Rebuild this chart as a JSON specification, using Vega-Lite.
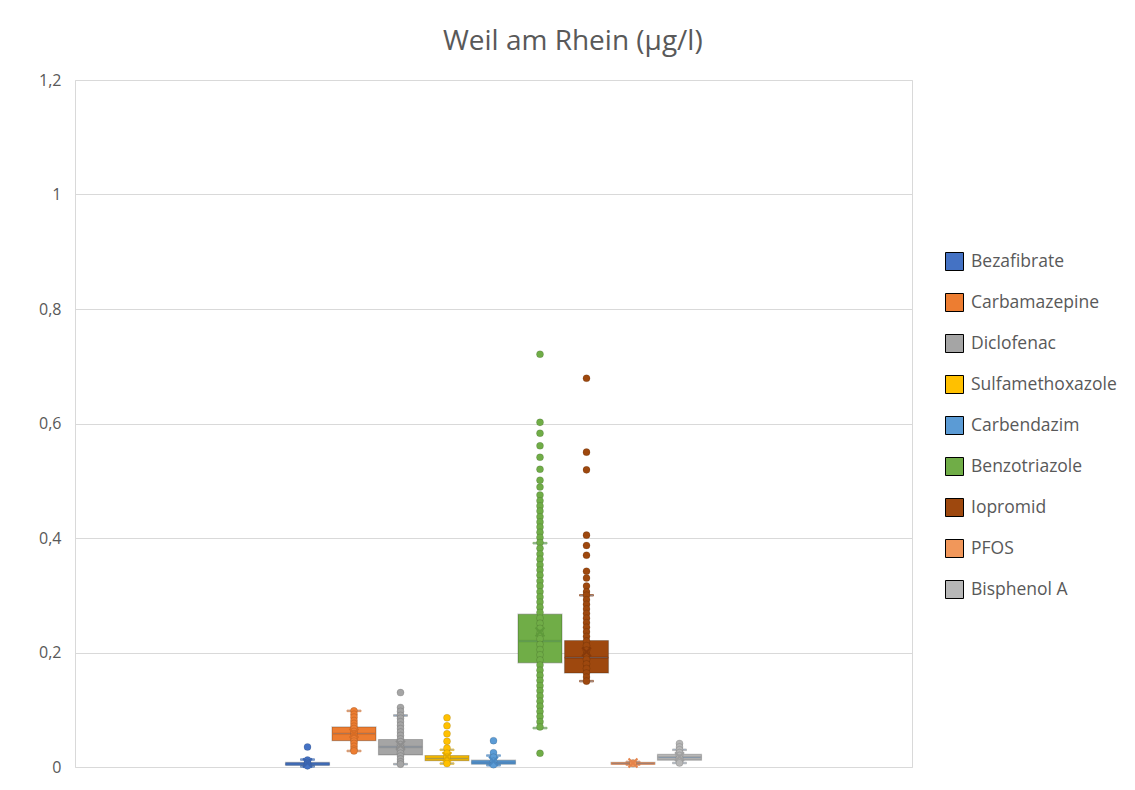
{
  "$schema": "https://vega.github.io/schema/vega-lite/v6.json",
  "width": 837,
  "height": 687,
  "autosize": {"type": "none"},
  "padding": {"left": 75, "top": 80, "right": 223, "bottom": 23},
  "background": "white",
  "config": {
    "font": "Open Sans",
    "view": {"stroke": "#D9D9D9", "strokeWidth": 1}
  },
  "title": {
    "text": "Weil am Rhein (µg/l)",
    "fontSize": 28,
    "fontWeight": "normal",
    "color": "#595959",
    "font": "Open Sans",
    "anchor": "middle",
    "frame": "bounds",
    "offset": 16,
    "dx": -5
  },
  "datasets": {
    "stats": [
      {"series": "Bezafibrate", "lo": 0.001, "q1": 0.003, "med": 0.005, "q3": 0.008, "hi": 0.013, "mean": 0.007},
      {"series": "Carbamazepine", "lo": 0.028, "q1": 0.046, "med": 0.058, "q3": 0.070, "hi": 0.098, "mean": 0.059},
      {"series": "Diclofenac", "lo": 0.005, "q1": 0.021, "med": 0.035, "q3": 0.048, "hi": 0.090, "mean": 0.038},
      {"series": "Sulfamethoxazole", "lo": 0.006, "q1": 0.011, "med": 0.015, "q3": 0.020, "hi": 0.030, "mean": 0.018},
      {"series": "Carbendazim", "lo": 0.003, "q1": 0.005, "med": 0.008, "q3": 0.012, "hi": 0.020, "mean": 0.010},
      {"series": "Benzotriazole", "lo": 0.068, "q1": 0.182, "med": 0.220, "q3": 0.267, "hi": 0.391, "mean": 0.236},
      {"series": "Iopromid", "lo": 0.150, "q1": 0.164, "med": 0.191, "q3": 0.221, "hi": 0.300, "mean": 0.201},
      {"series": "PFOS", "lo": 0.004, "q1": 0.005, "med": 0.006, "q3": 0.008, "hi": 0.009, "mean": 0.007},
      {"series": "Bisphenol A", "lo": 0.007, "q1": 0.012, "med": 0.017, "q3": 0.022, "hi": 0.030, "mean": 0.018}
    ],
    "pts": [
      {"series": "Bezafibrate", "v": 0.035}, {"series": "Bezafibrate", "v": 0.012}, {"series": "Bezafibrate", "v": 0.008}, {"series": "Bezafibrate", "v": 0.005}, {"series": "Bezafibrate", "v": 0.002},
      {"series": "Carbamazepine", "v": 0.098}, {"series": "Carbamazepine", "v": 0.092}, {"series": "Carbamazepine", "v": 0.087}, {"series": "Carbamazepine", "v": 0.081}, {"series": "Carbamazepine", "v": 0.076}, {"series": "Carbamazepine", "v": 0.071}, {"series": "Carbamazepine", "v": 0.067}, {"series": "Carbamazepine", "v": 0.062}, {"series": "Carbamazepine", "v": 0.058}, {"series": "Carbamazepine", "v": 0.054}, {"series": "Carbamazepine", "v": 0.049}, {"series": "Carbamazepine", "v": 0.045}, {"series": "Carbamazepine", "v": 0.041}, {"series": "Carbamazepine", "v": 0.036}, {"series": "Carbamazepine", "v": 0.031}, {"series": "Carbamazepine", "v": 0.028},
      {"series": "Diclofenac", "v": 0.130}, {"series": "Diclofenac", "v": 0.104}, {"series": "Diclofenac", "v": 0.097}, {"series": "Diclofenac", "v": 0.090}, {"series": "Diclofenac", "v": 0.085}, {"series": "Diclofenac", "v": 0.079}, {"series": "Diclofenac", "v": 0.073}, {"series": "Diclofenac", "v": 0.067}, {"series": "Diclofenac", "v": 0.061}, {"series": "Diclofenac", "v": 0.055}, {"series": "Diclofenac", "v": 0.049}, {"series": "Diclofenac", "v": 0.044}, {"series": "Diclofenac", "v": 0.039}, {"series": "Diclofenac", "v": 0.034}, {"series": "Diclofenac", "v": 0.029}, {"series": "Diclofenac", "v": 0.024}, {"series": "Diclofenac", "v": 0.019}, {"series": "Diclofenac", "v": 0.014}, {"series": "Diclofenac", "v": 0.009}, {"series": "Diclofenac", "v": 0.005},
      {"series": "Sulfamethoxazole", "v": 0.086}, {"series": "Sulfamethoxazole", "v": 0.072}, {"series": "Sulfamethoxazole", "v": 0.058}, {"series": "Sulfamethoxazole", "v": 0.045}, {"series": "Sulfamethoxazole", "v": 0.033}, {"series": "Sulfamethoxazole", "v": 0.024}, {"series": "Sulfamethoxazole", "v": 0.017}, {"series": "Sulfamethoxazole", "v": 0.011}, {"series": "Sulfamethoxazole", "v": 0.006},
      {"series": "Carbendazim", "v": 0.046}, {"series": "Carbendazim", "v": 0.025}, {"series": "Carbendazim", "v": 0.017}, {"series": "Carbendazim", "v": 0.010}, {"series": "Carbendazim", "v": 0.004},
      {"series": "Benzotriazole", "v": 0.721}, {"series": "Benzotriazole", "v": 0.602}, {"series": "Benzotriazole", "v": 0.583}, {"series": "Benzotriazole", "v": 0.561}, {"series": "Benzotriazole", "v": 0.541}, {"series": "Benzotriazole", "v": 0.520}, {"series": "Benzotriazole", "v": 0.501}, {"series": "Benzotriazole", "v": 0.489}, {"series": "Benzotriazole", "v": 0.475},
      {"series": "Benzotriazole", "v": 0.465}, {"series": "Benzotriazole", "v": 0.456}, {"series": "Benzotriazole", "v": 0.447}, {"series": "Benzotriazole", "v": 0.437}, {"series": "Benzotriazole", "v": 0.428}, {"series": "Benzotriazole", "v": 0.419}, {"series": "Benzotriazole", "v": 0.410}, {"series": "Benzotriazole", "v": 0.401}, {"series": "Benzotriazole", "v": 0.392}, {"series": "Benzotriazole", "v": 0.382}, {"series": "Benzotriazole", "v": 0.372}, {"series": "Benzotriazole", "v": 0.363}, {"series": "Benzotriazole", "v": 0.353}, {"series": "Benzotriazole", "v": 0.344}, {"series": "Benzotriazole", "v": 0.335}, {"series": "Benzotriazole", "v": 0.325}, {"series": "Benzotriazole", "v": 0.316}, {"series": "Benzotriazole", "v": 0.306}, {"series": "Benzotriazole", "v": 0.297}, {"series": "Benzotriazole", "v": 0.288}, {"series": "Benzotriazole", "v": 0.279}, {"series": "Benzotriazole", "v": 0.270}, {"series": "Benzotriazole", "v": 0.260}, {"series": "Benzotriazole", "v": 0.251}, {"series": "Benzotriazole", "v": 0.242}, {"series": "Benzotriazole", "v": 0.233}, {"series": "Benzotriazole", "v": 0.224}, {"series": "Benzotriazole", "v": 0.214}, {"series": "Benzotriazole", "v": 0.205}, {"series": "Benzotriazole", "v": 0.196}, {"series": "Benzotriazole", "v": 0.187}, {"series": "Benzotriazole", "v": 0.178}, {"series": "Benzotriazole", "v": 0.169}, {"series": "Benzotriazole", "v": 0.160}, {"series": "Benzotriazole", "v": 0.151}, {"series": "Benzotriazole", "v": 0.142}, {"series": "Benzotriazole", "v": 0.133}, {"series": "Benzotriazole", "v": 0.124}, {"series": "Benzotriazole", "v": 0.115}, {"series": "Benzotriazole", "v": 0.106}, {"series": "Benzotriazole", "v": 0.097}, {"series": "Benzotriazole", "v": 0.088}, {"series": "Benzotriazole", "v": 0.079}, {"series": "Benzotriazole", "v": 0.070}, {"series": "Benzotriazole", "v": 0.024},
      {"series": "Iopromid", "v": 0.679}, {"series": "Iopromid", "v": 0.550}, {"series": "Iopromid", "v": 0.519}, {"series": "Iopromid", "v": 0.405}, {"series": "Iopromid", "v": 0.387}, {"series": "Iopromid", "v": 0.370}, {"series": "Iopromid", "v": 0.342}, {"series": "Iopromid", "v": 0.330}, {"series": "Iopromid", "v": 0.316}, {"series": "Iopromid", "v": 0.306},
      {"series": "Iopromid", "v": 0.300}, {"series": "Iopromid", "v": 0.292}, {"series": "Iopromid", "v": 0.284}, {"series": "Iopromid", "v": 0.276}, {"series": "Iopromid", "v": 0.268}, {"series": "Iopromid", "v": 0.260}, {"series": "Iopromid", "v": 0.252}, {"series": "Iopromid", "v": 0.244}, {"series": "Iopromid", "v": 0.236}, {"series": "Iopromid", "v": 0.228}, {"series": "Iopromid", "v": 0.220}, {"series": "Iopromid", "v": 0.212}, {"series": "Iopromid", "v": 0.204}, {"series": "Iopromid", "v": 0.196}, {"series": "Iopromid", "v": 0.188}, {"series": "Iopromid", "v": 0.180}, {"series": "Iopromid", "v": 0.172}, {"series": "Iopromid", "v": 0.164}, {"series": "Iopromid", "v": 0.157}, {"series": "Iopromid", "v": 0.150},
      {"series": "PFOS", "v": 0.007}, {"series": "PFOS", "v": 0.006},
      {"series": "Bisphenol A", "v": 0.041}, {"series": "Bisphenol A", "v": 0.035}, {"series": "Bisphenol A", "v": 0.030}, {"series": "Bisphenol A", "v": 0.025}, {"series": "Bisphenol A", "v": 0.020}, {"series": "Bisphenol A", "v": 0.015}, {"series": "Bisphenol A", "v": 0.010}, {"series": "Bisphenol A", "v": 0.007}
    ]
  },
  "encoding": {
    "x": {
      "datum": "Weil am Rhein",
      "type": "nominal",
      "scale": {"type": "band", "paddingInner": 0, "paddingOuter": 0.5},
      "axis": null
    },
    "xOffset": {
      "field": "series",
      "type": "nominal",
      "sort": ["Bezafibrate", "Carbamazepine", "Diclofenac", "Sulfamethoxazole", "Carbendazim", "Benzotriazole", "Iopromid", "PFOS", "Bisphenol A"],
      "scale": {"type": "band", "paddingInner": 0, "paddingOuter": 0}
    }
  },
  "layer": [
    {
      "data": {"name": "stats"},
      "mark": {"type": "rule", "strokeWidth": 1.5},
      "encoding": {
        "y": {"field": "lo", "type": "quantitative", "scale": {"domain": [0, 1.2]},
          "axis": {"values": [0, 0.2, 0.4, 0.6, 0.8, 1, 1.2], "labelExpr": "replace(format(datum.value, '.1~f'), '.', ',')", "title": null, "domain": false, "ticks": false, "labelFontSize": 16, "labelColor": "#595959", "labelPadding": 14, "gridColor": "#D9D9D9", "gridWidth": 1}},
        "y2": {"field": "hi"},
        "stroke": {"field": "series", "type": "nominal", "scale": {"domain": ["Bisphenol A", "PFOS", "Iopromid", "Benzotriazole", "Carbendazim", "Sulfamethoxazole", "Diclofenac", "Carbamazepine", "Bezafibrate"], "range": ["#A0A0A0", "#E5834A", "#86390A", "#5E9A3A", "#4A88C2", "#E0A800", "#8F8F8F", "#D76C24", "#3A64B0"]}, "legend": null}
      }
    },
    {
      "data": {"name": "stats"},
      "mark": {"type": "tick", "thickness": 1.5, "size": 14},
      "encoding": {
        "y": {"field": "lo", "type": "quantitative"},
        "stroke": {"field": "series", "type": "nominal", "legend": null}
      }
    },
    {
      "data": {"name": "stats"},
      "mark": {"type": "tick", "thickness": 1.5, "size": 14},
      "encoding": {
        "y": {"field": "hi", "type": "quantitative"},
        "stroke": {"field": "series", "type": "nominal", "legend": null}
      }
    },
    {
      "data": {"name": "stats"},
      "mark": {"type": "bar", "width": 44, "strokeWidth": 1.2, "stroke": "#000000", "strokeOpacity": 0.22},
      "encoding": {
        "y": {"field": "q1", "type": "quantitative"},
        "y2": {"field": "q3"},
        "fill": {"field": "series", "type": "nominal",
          "scale": {"domain": ["Bezafibrate", "Carbamazepine", "Diclofenac", "Sulfamethoxazole", "Carbendazim", "Benzotriazole", "Iopromid", "PFOS", "Bisphenol A"], "range": ["#4472C4", "#ED7D31", "#A5A5A5", "#FFC000", "#5B9BD5", "#70AD47", "#9E480E", "#F1975A", "#B7B7B7"]},
          "legend": {"orient": "none", "legendX": 870, "legendY": 172, "title": null, "symbolType": "square", "symbolSize": 324, "symbolStrokeWidth": 1, "symbolStrokeColor": "#00000030", "labelFontSize": 17.5, "labelColor": "#595959", "rowPadding": 18, "labelOffset": 7, "labelFont": "Open Sans"}}
      }
    },
    {
      "data": {"name": "stats"},
      "mark": {"type": "tick", "thickness": 1.5, "size": 43},
      "encoding": {
        "y": {"field": "med", "type": "quantitative"},
        "stroke": {"field": "series", "type": "nominal", "legend": null}
      }
    },
    {
      "data": {"name": "pts"},
      "mark": {"type": "point", "filled": true, "size": 50, "opacity": 1, "stroke": "#000000", "strokeOpacity": 0.2, "strokeWidth": 0.6},
      "encoding": {
        "y": {"field": "v", "type": "quantitative"},
        "fill": {"field": "series", "type": "nominal"}
      }
    },
    {
      "data": {"name": "stats"},
      "mark": {"type": "point", "shape": "M-1,-1L1,1M-1,1L1,-1", "filled": false, "size": 80, "strokeWidth": 2, "opacity": 1},
      "encoding": {
        "y": {"field": "mean", "type": "quantitative"},
        "stroke": {"field": "series", "type": "nominal", "legend": null}
      }
    }
  ]
}
